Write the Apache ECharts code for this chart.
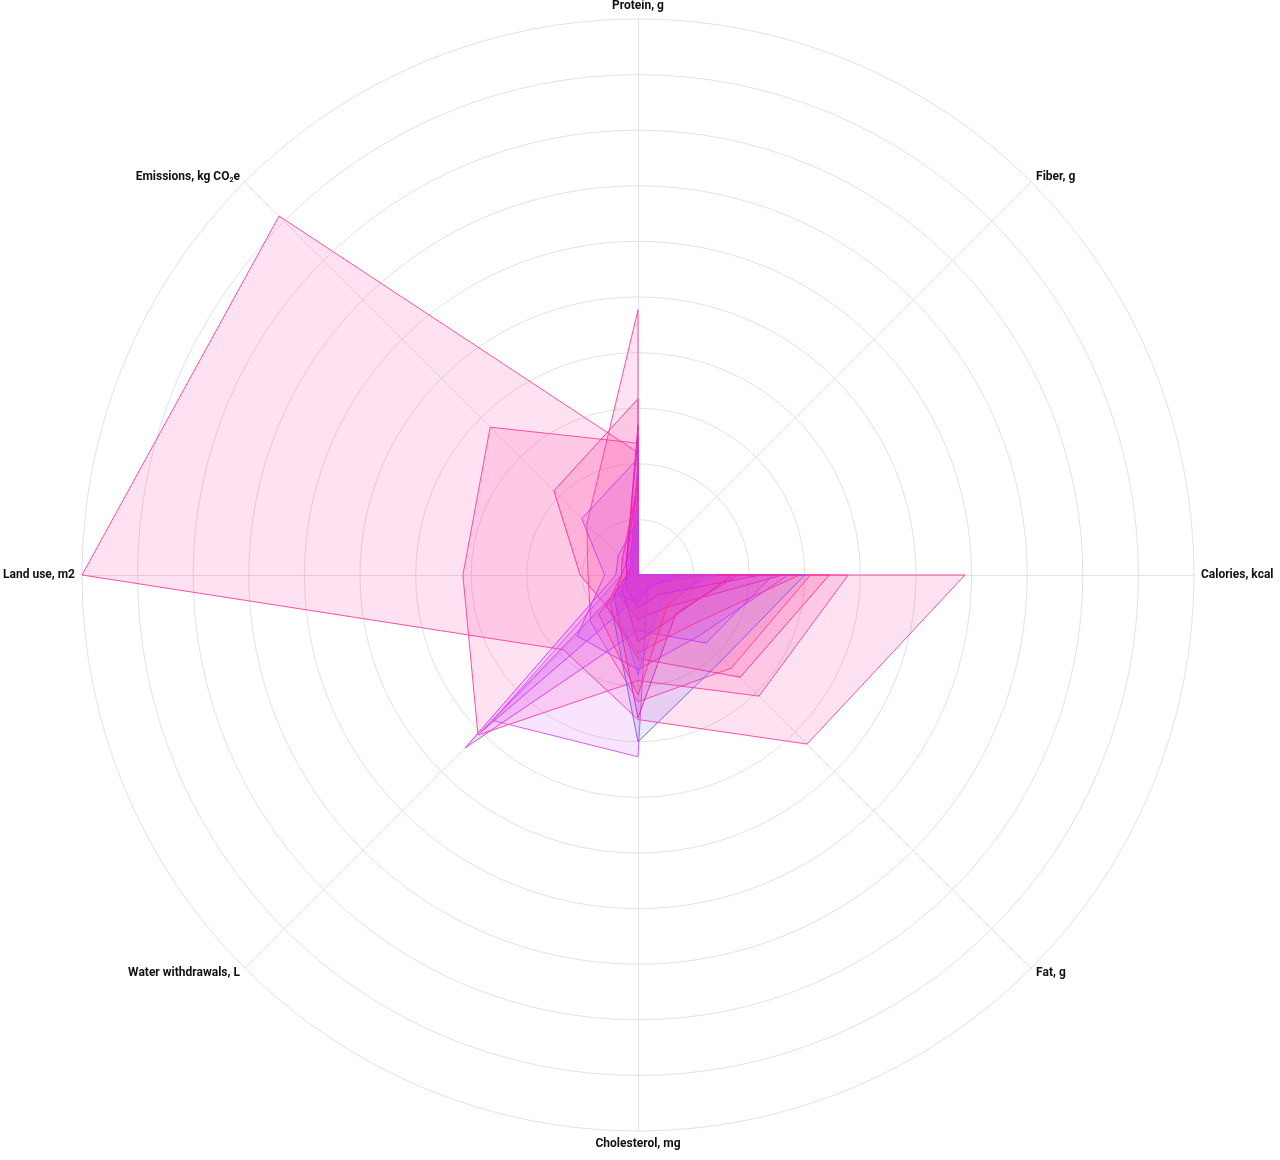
<!DOCTYPE html>
<html>
<head>
<meta charset="utf-8">
<script src="https://cdn.jsdelivr.net/npm/echarts@6/dist/echarts.min.js"></script>
<style>
html, body { margin: 0; padding: 0; background: #fff; }
#chart { width: 1280px; height: 1160px; }
</style>
</head>
<body>
<div id="chart"></div>
<script>
// indicator order runs counter-clockwise from the top
var axisNames = ['Protein, g', 'Emissions, kg CO2e', 'Land use, m2', 'Water withdrawals, L',
	'Cholesterol, mg', 'Fat, g', 'Calories, kcal', 'Fiber, g'];
// values scaled 0-100 of each axis, same order as axisNames
var beefHerd   = [22, 91.3, 100, 19, 26, 43, 58.8, 0];
var lamb       = [23.7, 37.6, 31.5, 40.7, 19, 30.8, 37.8, 0];
var beefDairy  = [31.7, 21.4, 10.4, 8, 15, 26, 34.4, 0];
var cheese     = [47.7, 13, 9, 12, 22.8, 23.7, 31, 0];
var prawns     = [10, 5, 4, 44, 10, 17.3, 24.3, 0];
var eggs       = [15, 4, 3, 37, 32.7, 2.5, 12, 0];
var butter     = [8, 3, 2, 7, 30, 21.5, 30, 0];
var pork       = [21, 14.3, 6, 15.5, 17, 15.5, 27, 0];
var poultry    = [27, 3, 3, 6, 25.7, 9.7, 18, 0];
var fish       = [14, 2, 2, 10, 21.6, 7.6, 12, 0];
var milk       = [12, 2, 1.5, 5, 5, 3, 8, 0];
var turkey     = [18, 3, 2, 4, 12, 10, 17, 0];
var duck       = [25, 3, 2, 3, 6, 5, 22, 0];
var goat       = [20, 2, 1.5, 5, 8, 8, 26, 0];
var crab       = [10, 1.5, 1, 40, 4, 3, 6, 0];
var sausage    = [17, 4, 3, 8, 14, 13, 29, 0];
var yogurt     = [13, 2, 1, 6, 18, 6, 14, 0];

var seriesList = [
	{ name : 'Beef (beef herd)', data : beefHerd, color : '#ff3d9e' },
	{ name : 'Lamb', data : lamb, color : '#ff3d9e' },
	{ name : 'Beef (dairy herd)', data : beefDairy, color : '#ff2f95' },
	{ name : 'Cheese', data : cheese, color : '#ff3d9e' },
	{ name : 'Prawns', data : prawns, color : '#cc33ff' },
	{ name : 'Eggs', data : eggs, color : '#d94cff' },
	{ name : 'Butter', data : butter, color : '#6a5cff' },
	{ name : 'Pork', data : pork, color : '#c83cf0' },
	{ name : 'Poultry', data : poultry, color : '#e61fb8' },
	{ name : 'Fish', data : fish, color : '#ff2f95' },
	{ name : 'Milk', data : milk, color : '#cc33ff' },
	{ name : 'Turkey', data : turkey, color : '#e020c0' },
	{ name : 'Duck', data : duck, color : '#d61fd6' },
	{ name : 'Goat', data : goat, color : '#e629c8' },
	{ name : 'Crab', data : crab, color : '#cc33ff' },
	{ name : 'Sausage', data : sausage, color : '#ff2f95' },
	{ name : 'Yogurt', data : yogurt, color : '#b84dff' }
];

var chart = echarts.init(document.getElementById('chart'));

var indicators = [];
for (var i in axisNames) {
	indicators.push({ name : axisNames[i], max : 100, min : 0 });
}

var series = [];
for (var i in seriesList) {
	var s = seriesList[i];
	series.push({
		type : 'radar',
		name : s.name,
		symbol : 'none',
		lineStyle : { color : s.color, width : 1, opacity : 0.9 },
		itemStyle : { color : s.color },
		areaStyle : { color : s.color, opacity : 0.15 },
		data : [ { value : s.data, name : s.name } ]
	});
}

var option = {
	backgroundColor : '#fff',
	animation : false,
	radar : {
		center : [638, 575],
		radius : 556,
		startAngle : 90,
		splitNumber : 10,
		shape : 'circle',
		indicator : indicators,
		nameGap : 7,
		axisName : {
			color : '#111',
			fontFamily : 'Roboto',
			fontWeight : 'bold',
			fontSize : 12,
			formatter : function(value) {
				if (value.indexOf('CO2') >= 0) {
					return 'Emissions, kg CO{sub|2}e';
				}
				return value;
			},
			rich : {
				sub : { fontSize : 7, fontWeight : 'bold', fontFamily : 'Roboto', color : '#111', verticalAlign : 'bottom', padding : [6, 0, 0, 0] }
			}
		},
		axisLine : { lineStyle : { color : '#e2e2e2', width : 1 } },
		splitLine : { lineStyle : { color : '#e2e2e2', width : 1 } },
		splitArea : { show : false },
		axisTick : { show : false },
		axisLabel : { show : false }
	},
	series : series
};
chart.setOption(option);
</script>
</body>
</html>
